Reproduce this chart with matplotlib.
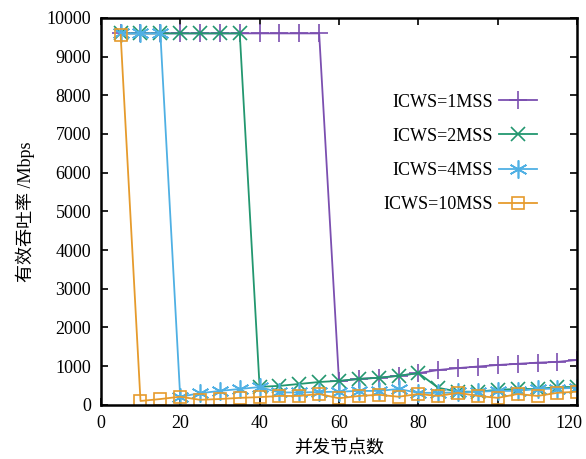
import matplotlib
matplotlib.use("Agg")
import matplotlib.pyplot as plt
import matplotlib.transforms as mtransforms

plt.rcParams["font.family"] = ["Liberation Serif", "Noto Sans CJK SC"]

NODES = [5, 10, 15, 20, 25, 30, 35, 40, 45, 50, 55, 60,
         65, 70, 75, 80, 85, 90, 95, 100, 105, 110, 115, 120]

ICWS_1 = [9600, 9600, 9600, 9600, 9600, 9600, 9600, 9600, 9600, 9600, 9600, 610,
          670, 700, 750, 820, 900, 950, 990, 1030, 1060, 1090, 1110, 1160]
ICWS_2 = [9600, 9600, 9600, 9600, 9600, 9600, 9600, 465, 490, 540, 590, 620,
          670, 700, 750, 820, 440, 340, 340, 390, 410, 410, 460, 460]
ICWS_4 = [9600, 9600, 9600, 210, 300, 360, 410, 460, 320, 320, 330, 340,
          360, 360, 410, 310, 310, 320, 340, 360, 360, 410, 420, 440]
ICWS_10 = [9560, 100, 150, 210, 130, 150, 180, 200, 230, 230, 280, 170,
           230, 260, 210, 280, 230, 310, 230, 180, 280, 230, 310, 340]

SERIES = [
    ("ICWS=1MSS", ICWS_1, "#7b4fb0", "+", 13),
    ("ICWS=2MSS", ICWS_2, "#22976f", "x", 10),
    ("ICWS=4MSS", ICWS_4, "#4fb0e4", (6, 2, 0), 13),
    ("ICWS=10MSS", ICWS_10, "#e69b2c", "s", 9),
]

fig = plt.figure(figsize=(5.86, 4.59), dpi=100)
ax = fig.add_axes([0.172, 0.118, 0.813, 0.843])

for label, vals, color, marker, ms in SERIES:
    ax.plot(NODES, vals, color=color, linewidth=1.3, marker=marker,
            markersize=ms, markerfacecolor="none" if marker == "s" else color,
            markeredgecolor=color, markeredgewidth=1.2, label=label)

ax.set_xlim(0, 120)
ax.set_ylim(0, 10000)
ax.set_xticks(range(0, 121, 20))
ax.set_yticks(range(0, 10001, 1000))
ax.tick_params(direction="in", length=5, width=1.2, top=True, right=True,
               labelsize=13, pad=7)
for s in ax.spines.values():
    s.set_linewidth(1.8)

# keep the last x label inside the canvas, like the reference
last = ax.get_xticklabels()[-1]
last.set_transform(last.get_transform() +
                   mtransforms.ScaledTranslation(-6 / 72, 0, fig.dpi_scale_trans))

ax.set_xlabel("并发节点数", fontsize=13, labelpad=6)
ax.set_ylabel("有效吞吐率 /Mbps", fontsize=13, labelpad=8)

ax.legend(loc="center right", bbox_to_anchor=(0.93, 0.65), frameon=False,
          markerfirst=False, fontsize=13, handlelength=2.1, handletextpad=0.3,
          labelspacing=0.95, borderaxespad=0)

fig.savefig("out.png", dpi=100)
